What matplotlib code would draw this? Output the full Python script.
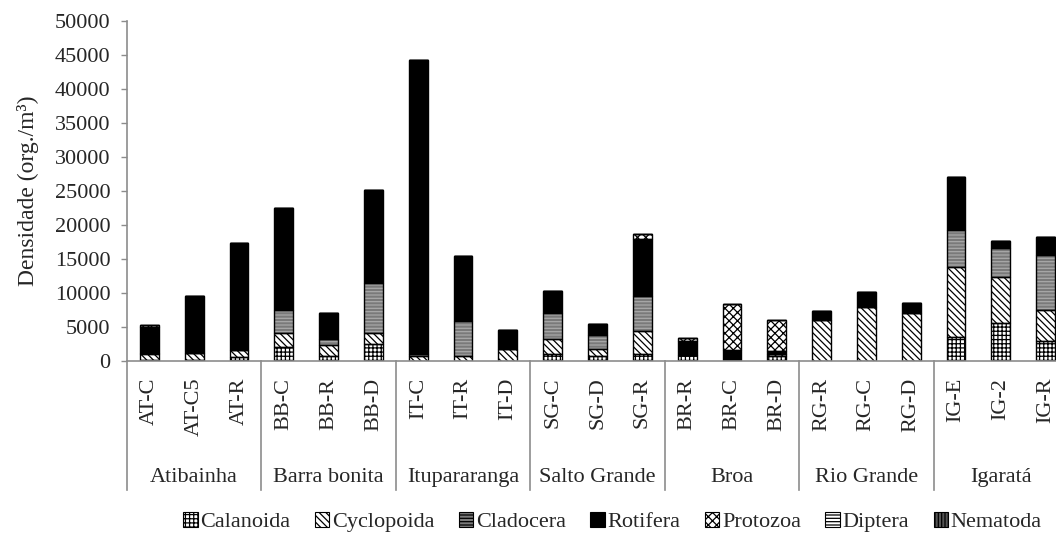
import matplotlib
matplotlib.use("Agg")
import matplotlib.pyplot as plt
from matplotlib.patches import Patch
import numpy as np

plt.rcParams['font.family'] = ['Liberation Serif', 'DejaVu Serif']
plt.rcParams['hatch.linewidth'] = 0.9

categories = ["AT-C", "AT-C5", "AT-R", "BB-C", "BB-R", "BB-D", "IT-C", "IT-R", "IT-D",
              "SG-C", "SG-D", "SG-R", "BR-R", "BR-C", "BR-D", "RG-R", "RG-C", "RG-D",
              "IG-E", "IG-2", "IG-R"]
groups = ["Atibainha", "Barra bonita", "Itupararanga", "Salto Grande", "Broa", "Rio Grande", "Igaratá"]

calanoida  = [150, 100, 600, 2100, 700, 2450, 0, 0, 0, 1100, 700, 1000, 900, 0, 700, 0, 0, 0, 3500, 5600, 2900]
cyclopoida = [900, 1100, 1000, 2000, 1700, 1600, 700, 700, 1700, 2100, 1000, 3400, 0, 0, 300, 6100, 7900, 7100, 10300, 6700, 4650]
cladocera  = [100, 0, 0, 3400, 900, 7350, 300, 5200, 0, 3800, 2100, 5100, 0, 0, 0, 0, 0, 0, 5500, 4300, 8000]
rotifera   = [3900, 8300, 15700, 15000, 3700, 13800, 43200, 9500, 2800, 3300, 1600, 8500, 2000, 1550, 500, 1200, 2250, 1500, 7700, 1000, 2650]
protozoa   = [200, 0, 0, 0, 0, 0, 0, 0, 0, 0, 0, 700, 500, 6800, 4500, 0, 0, 0, 0, 0, 0]
diptera    = [0] * 21
nematoda   = [50, 0, 0, 0, 0, 0, 0, 0, 0, 0, 0, 0, 0, 0, 0, 0, 0, 0, 0, 0, 0]

series_names = ["Calanoida", "Cyclopoida", "Cladocera", "Rotifera", "Protozoa", "Diptera", "Nematoda"]
series = [calanoida, cyclopoida, cladocera, rotifera, protozoa, diptera, nematoda]
# (facecolor, hatch, hatchcolor)
styles = [("white", "++++", "black"),
          ("white", "\\\\\\\\\\", "black"),
          ("#7a7a7a", "-----", "#a8a8a8"),
          ("black", "", "black"),
          ("white", "xxxx", "black"),
          ("white", "-----", "black"),
          ("#555555", "|||||", "#999999")]

fig = plt.figure(figsize=(10.56, 5.36), dpi=100)
ax = fig.add_axes([127/1056, 1 - 361/536, 941/1056, 340/536])

x = np.arange(len(categories))
w = 0.42
bottom = np.zeros(len(categories))
for name, vals, (fc, h, hc) in zip(series_names, series, styles):
    v = np.array(vals, dtype=float)
    ax.bar(x, v, w, bottom=bottom, color=fc, hatch=h, edgecolor=hc, linewidth=0)
    bottom += v
# outlines of stacked segments
bottom = np.zeros(len(categories))
for vals in series:
    v = np.array(vals, dtype=float)
    ax.bar(x, v, w, bottom=bottom, fill=False, edgecolor="black", linewidth=1.0)
    bottom += v

ax.set_xlim(-0.5, len(categories) - 0.5)
ax.set_ylim(0, 50000)
ax.set_yticks(np.arange(0, 50001, 5000))
ax.tick_params(axis='y', labelsize=16, length=4, width=1, color="#8c8c8c", pad=8, labelcolor="#262626")
ax.set_xticks(x)
ax.set_xticklabels(categories, rotation=90, fontsize=16, color="#262626", va="top")
ax.tick_params(axis='x', length=0, pad=12)
for s in ["top", "right"]:
    ax.spines[s].set_visible(False)
for s in ["left", "bottom"]:
    ax.spines[s].set_color("#8c8c8c")
    ax.spines[s].set_linewidth(1.2)

ax.set_ylabel("Densidade (org./m³)", fontsize=17, color="#262626", labelpad=11)

trans = ax.get_xaxis_transform()
for i in range(len(groups) + 1):
    xs = i * 3 - 0.5
    ax.plot([xs, xs], [0, -0.38], transform=trans, color="#8c8c8c", lw=1.2, clip_on=False)
for i, g in enumerate(groups):
    ax.text(i * 3 + 1, -0.343, g, transform=trans, ha="center", va="center",
            fontsize=16, color="#262626")

handles = []
for name, (fc, h, hc) in zip(series_names, styles):
    handles.append(Patch(facecolor=fc, hatch=h, edgecolor="black", linewidth=0.8, label=name))
fig.legend(handles=handles, loc="center", bbox_to_anchor=(0.58, 1 - 522/536), ncol=7,
           frameon=False, fontsize=16, handlelength=0.65, handleheight=0.65,
           handletextpad=0.12, columnspacing=1.1, labelcolor="#262626")

fig.savefig("out.png", dpi=100)
